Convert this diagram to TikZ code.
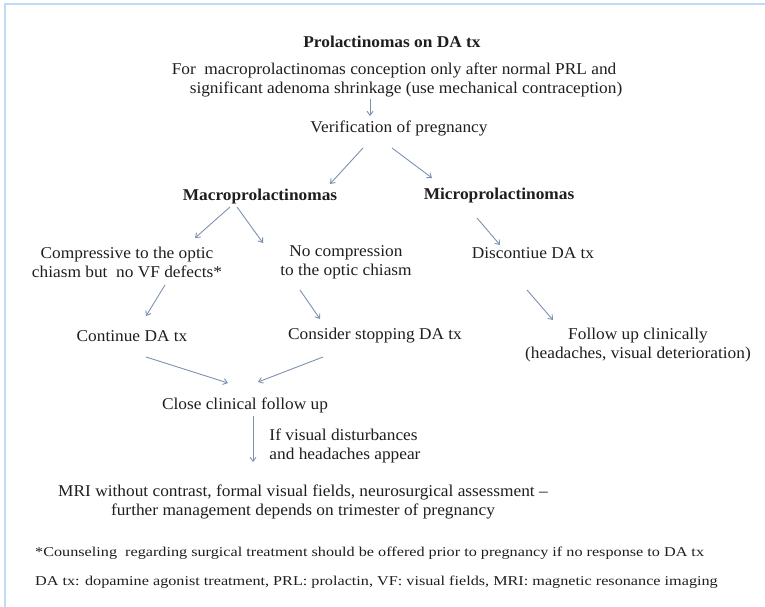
\documentclass[tikz,border=0pt]{standalone}
\usepackage{fontspec}
\setmainfont[FakeStretch=1.05]{Liberation Serif}
\newfontfamily\footfont[FakeStretch=1.2]{Liberation Serif}
\usetikzlibrary{arrows.meta}
\definecolor{arrc}{RGB}{125,145,175}
\definecolor{framec}{RGB}{190,220,245}
\definecolor{txt}{RGB}{30,30,30}
\begin{document}
\begin{tikzpicture}[x=1pt,y=-1pt,
 every node/.style={inner sep=0pt, text=txt},
 lbl/.style={font=\fontsize{16.5}{19}\selectfont, align=center},
 hdr/.style={font=\fontsize{16.5}{19}\selectfont\bfseries},
 foot/.style={font=\footfont\fontsize{13.5}{16}\selectfont, anchor=west},
 arr/.style={draw=arrc, line width=0.9pt, -{Straight Barb[length=4pt,width=6pt]}}]
\useasboundingbox (0,0) rectangle (765,607);
\draw[framec, line width=2.5pt] (5,607) -- (5,4) -- (765,4);

\node[hdr] (title) at (392,42) {Prolactinomas on DA tx};
\node[lbl, align=left] (cond) at (397,80) {For\ \ macroprolactinomas conception only after normal PRL and\\\hspace*{18pt}significant adenoma shrinkage (use mechanical contraception)};
\node[lbl] (verif) at (399,128) {Verification of pregnancy};
\node[hdr] (macro) at (260,197) {Macroprolactinomas};
\node[hdr] (micro) at (499,196) {Microprolactinomas};
\node[lbl] (comp) at (127,262) {Compressive to the optic\\chiasm but\ \ no VF defects*};
\node[lbl] (nocomp) at (346,262) {No compression\\to the optic chiasm};
\node[lbl] (disc) at (533,253) {Discontiue DA tx};
\node[lbl] (follow) at (638,345) {Follow up clinically\\(headaches, visual deterioration)};
\node[lbl] (cont) at (132,336) {Continue DA tx};
\node[lbl] (consider) at (375,336) {Consider stopping DA tx};
\node[lbl] (close) at (245,405) {Close clinical follow up};
\node[lbl, align=left] (ifvis) at (345,446) {If visual disturbances\\and headaches appear};
\node[lbl] (mri) at (303,502) {MRI without contrast, formal visual fields, neurosurgical assessment --\\further management depends on trimester of pregnancy};
\node[foot] (fn1) at (35,553) {*Counseling\ \ regarding surgical treatment should be offered prior to pregnancy if no response to DA tx};
\node[foot] (fn2) at (35,582) {DA tx: dopamine agonist treatment, PRL: prolactin, VF: visual fields, MRI: magnetic resonance imaging};

\draw[arr] ([shift={(-27,19)}]cond.center) -- ([shift={(-29,-12)}]verif.center);
\draw[arr] ([shift={(-36,20)}]verif.center) -- ([shift={(70,-13)}]macro.center);
\draw[arr] ([shift={(-7,20)}]verif.center) -- ([shift={(-67,-18)}]micro.center);
\draw[arr] ([shift={(-30,10)}]macro.center) -- ([shift={(68,-24)}]comp.center);
\draw[arr] ([shift={(-23,10)}]macro.center) -- ([shift={(-83,-19)}]nocomp.center);
\draw[arr] ([shift={(-22,22)}]micro.center) -- ([shift={(-33,-8)}]disc.center);
\draw[arr] ([shift={(38,23)}]comp.center) -- ([shift={(14,-20)}]cont.center);
\draw[arr] ([shift={(-46,28)}]nocomp.center) -- ([shift={(-55,-17)}]consider.center);
\draw[arr] ([shift={(-6,37)}]disc.center) -- ([shift={(-85,-25)}]follow.center);
\draw[arr] ([shift={(14,21)}]cont.center) -- ([shift={(-17,-22)}]close.center);
\draw[arr] ([shift={(-52,21)}]consider.center) -- ([shift={(13,-23)}]close.center);
\draw[arr] ([shift={(8,11)}]close.center) -- ([shift={(-50,-40)}]mri.center);
\end{tikzpicture}
\end{document}
